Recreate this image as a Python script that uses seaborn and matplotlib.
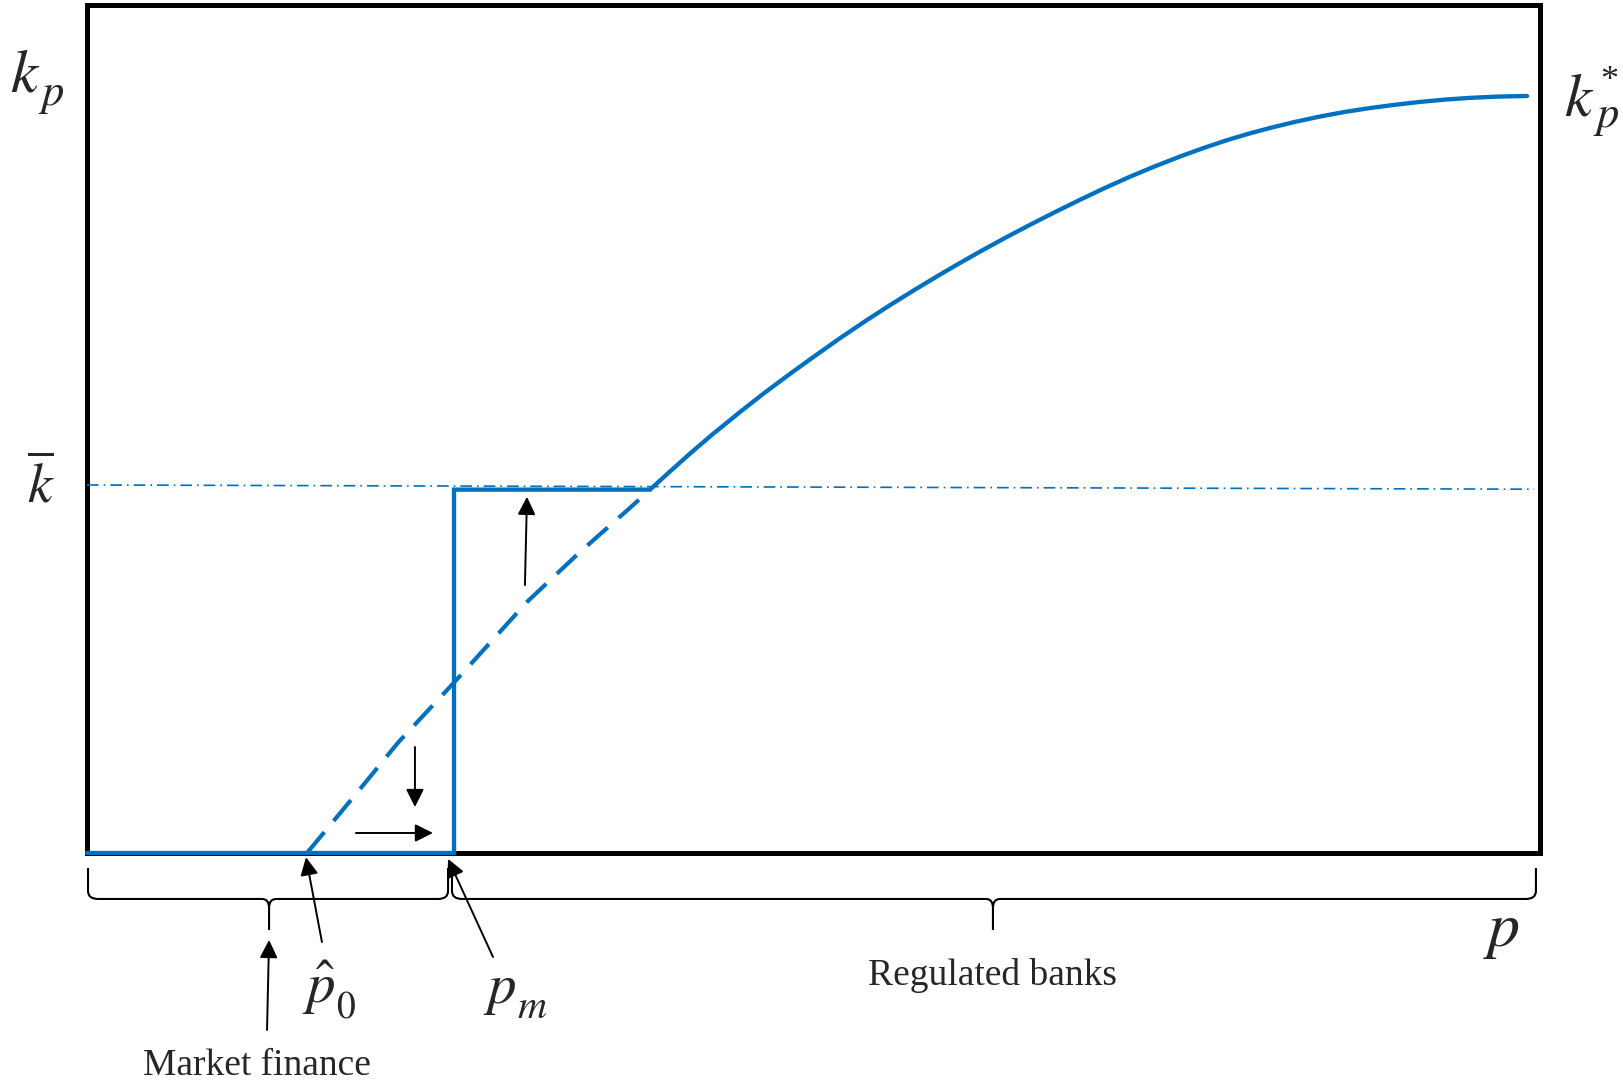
import matplotlib
matplotlib.use("Agg")
import matplotlib.pyplot as plt
from matplotlib.path import Path
from matplotlib.patches import PathPatch
import seaborn as sns

# ---- data (p and k on arbitrary 0-100 scales) ----
p_hat0 = 15.14
p_m = 25.26
k_bar = 42.85

# unconstrained capital curve k_p* (solid part, from kink to end)
p_curve = [38.75, 40.0, 41.5, 43.0, 44.94, 46.5, 48.38, 50.0, 51.82, 53.5,
           55.26, 57.0, 58.57, 60.0, 61.46, 63.2, 64.9, 66.6, 68.34, 70.0,
           71.78, 73.5, 75.22, 76.9, 78.53, 80.0, 81.42, 83.1, 84.86, 86.6,
           88.3, 90.0, 91.74, 93.5, 95.18, 97.1, 99.11]
k_curve = [42.85, 44.8, 47.1, 49.3, 52.0, 54.1, 56.5, 58.5, 60.7, 62.65,
           64.6, 66.45, 68.07, 69.5, 70.92, 72.55, 74.08, 75.56, 77.03, 78.38,
           79.75, 80.98, 82.13, 83.17, 84.1, 84.85, 85.5, 86.2, 86.85, 87.4,
           87.85, 88.23, 88.57, 88.85, 89.05, 89.2, 89.27]

# dashed continuation of k_p* below k_bar
p_dash = [15.14, 18.58, 21.40, 25.26, 30.28, 33.93, 37.37, 38.75]
k_dash = [0.0, 7.1, 13.0, 20.1, 29.6, 35.5, 40.7, 42.85]

# k_bar reference line (dash-dot)
kbar_line_p = [0.0, 99.6]
kbar_line_k = [43.4, 42.9]

# brace spans: (left, tip, right)
mf_span = (0.07, 12.53, 24.85)
rb_span = (25.12, 62.35, 99.72)

BLUE = "#0070C0"

sns.set_theme(style="white")
plt.rcParams['font.family'] = ['Liberation Serif', 'DejaVu Serif']
plt.rcParams['mathtext.fontset'] = 'stix'

W, H = 1623, 1088
fig = plt.figure(figsize=(W / 100, H / 100), dpi=100)
ax = fig.add_axes([87 / W, (H - 853) / H, 1453 / W, 848 / H])
ax.set_xlim(0, 100)
ax.set_ylim(0, 100)
ax.set_xticks([])
ax.set_yticks([])
for s in ax.spines.values():
    s.set_visible(True)
    s.set_color("black")
    s.set_linewidth(3.6)

# solid path: market finance floor, jump at p_m, k_bar plateau, then k_p*
solid_p = [0.0, p_m, p_m] + p_curve
solid_k = [0.0, 0.0, k_bar] + k_curve
sns.lineplot(x=solid_p, y=solid_k, sort=False, estimator=None, color=BLUE,
             lw=3.1, ax=ax)
sns.lineplot(x=p_dash, y=k_dash, sort=False, estimator=None, color=BLUE,
             lw=3.0, linestyle=(0, (6.5, 3.5)), ax=ax)
sns.lineplot(x=kbar_line_p, y=kbar_line_k, sort=False, estimator=None, color=BLUE,
             lw=1.2, linestyle=(0, (7, 3, 1, 3)), ax=ax)
for ln in ax.lines:
    ln.set_clip_on(False)
    ln.set_zorder(3)
ax.lines[0].set_solid_joinstyle("miter")
ax.lines[0].set_solid_capstyle("round")


def arrow(tail, tip):
    ax.annotate("", xy=tip, xytext=tail,
                arrowprops=dict(arrowstyle="-|>,head_length=0.4,head_width=0.2",
                                mutation_scale=27, lw=1.4, color="black",
                                shrinkA=0, shrinkB=0),
                annotation_clip=False, zorder=4)


arrow((30.14, 31.60), (30.28, 42.0))
arrow((22.57, 12.50), (22.57, 5.42))
arrow((18.51, 2.36), (23.81, 2.36))
arrow((16.17, -10.50), (15.07, -0.5))
arrow((27.94, -12.26), (24.85, -0.7))
arrow((12.39, -20.87), (12.53, -10.26))


def brace(x0, xm, x1, ytop=-1.77, ybar=-5.42, ytip=-9.08,
          rh=0.69, rv=0.94, ch=0.48, cv=1.06):
    verts = [(x0, ytop), (x0, ybar + rv), (x0, ybar), (x0 + rh, ybar),
             (xm - ch, ybar), (xm, ybar), (xm, ybar - cv), (xm, ytip),
             (xm, ybar - cv), (xm, ybar), (xm + ch, ybar),
             (x1 - rh, ybar), (x1, ybar), (x1, ybar + rv), (x1, ytop)]
    codes = [Path.MOVETO, Path.LINETO, Path.CURVE3, Path.CURVE3,
             Path.LINETO, Path.CURVE3, Path.CURVE3, Path.LINETO,
             Path.MOVETO, Path.CURVE3, Path.CURVE3,
             Path.LINETO, Path.CURVE3, Path.CURVE3, Path.LINETO]
    ax.add_patch(PathPatch(Path(verts, codes), fill=False, lw=1.5,
                           edgecolor="black", clip_on=False))


brace(*mf_span)
brace(*rb_span)


def fx(x):
    return x / W


def fy(y):
    return 1 - y / H


def label(x, y, s, size, ha="left"):
    fig.text(fx(x), fy(y), s, fontsize=size, va="baseline", ha=ha)


# k_p (top left)
label(10, 92, r"$k$", 44)
label(38, 105, r"$p$", 32)
# k_p^* (top right)
label(1564, 115, r"$k$", 44)
label(1593, 127, r"$p$", 32)
label(1609, 90, "*", 26, ha="center")
# k bar
label(27, 503, r"$\overline{k}$", 40)
# p hat 0
label(302, 1003, r"$\hat{p}$", 41)
label(336, 1017, r"$0$", 27)
# p_m
label(483, 1003, r"$p$", 41)
label(517, 1018, r"$m$", 29)
# p axis
label(1483, 946, r"$p$", 46)

label(993, 985, "Regulated banks", 27, ha="center")
label(257, 1075, "Market finance", 27, ha="center")

fig.savefig("out.png", dpi=100)
